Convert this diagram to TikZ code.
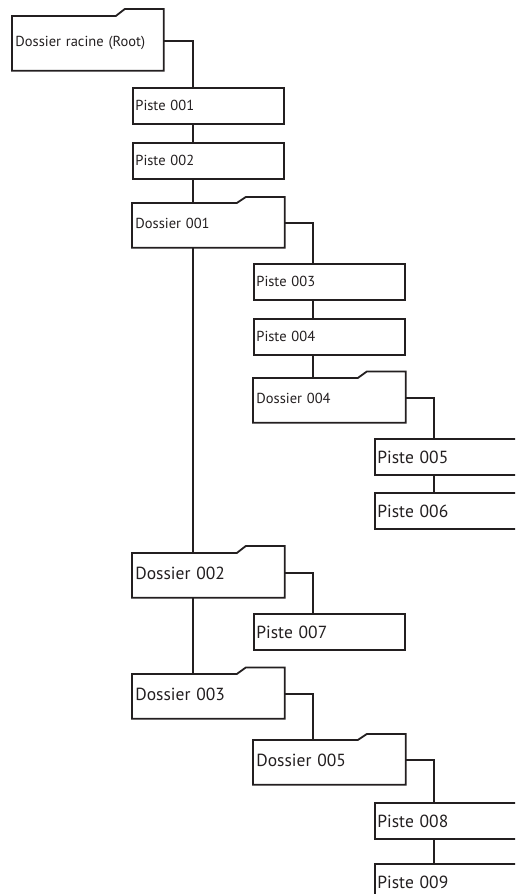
\documentclass[tikz,border=0pt]{standalone}
\usepackage{fontspec}
\setmainfont{PT Sans}
\definecolor{ink}{HTML}{231F20}
\newcommand{\folderline}[2]{%
  \draw[conn] (#1.north west) -- ([xshift=-48pt]#1.north east)
    -- ([xshift=-39pt,yshift=#2]#1.north east) -- ([yshift=#2]#1.north east)
    -- (#1.south east) -- (#1.south west) -- cycle;}
\begin{document}
\begin{tikzpicture}[x=1pt,y=-1pt,
  conn/.style={draw=ink, line width=1.8pt, line join=miter},
  box/.style={rectangle, draw=ink, line width=1.8pt, anchor=north west,
    minimum width=151pt, minimum height=36pt, text width=146pt,
    align=left, inner xsep=2.5pt, inner ysep=0pt, text=ink},
  folder/.style={box, draw=none, minimum height=43pt, text depth=5pt},
  small/.style={font=\fontsize{14.5}{16}\selectfont},
  big/.style={font=\fontsize{17.5}{20}\selectfont}]
\useasboundingbox (0,0) rectangle (515,894);
\clip (0,0) rectangle (515,894);

% column 1
\node[folder, small, minimum width=150pt, text width=145pt, minimum height=53pt] (root) at (12,16) {Dossier racine (Root)};
\folderline{root}{7pt}
\node[box, small] (p1) at (132,87) {Piste 001};
\node[box, small] (p2) at (132,142) {Piste 002};
\node[folder, small] (d1) at (132,203) {Dossier 001};
\folderline{d1}{6pt}
\node[folder, big] (d2) at (132,553) {Dossier 002};
\folderline{d2}{7pt}
\node[folder, big] (d3) at (132,674) {Dossier 003};
\folderline{d3}{6.5pt}

% column 2
\node[box, small] (p3) at (253,263) {Piste 003};
\node[box, small] (p4) at (253,318) {Piste 004};
\node[folder, small] (d4) at (253,378) {Dossier 004};
\folderline{d4}{6.5pt}
\node[box, big] (p7) at (253,613) {Piste 007};
\node[folder, big] (d5) at (253,740) {Dossier 005};
\folderline{d5}{6pt}

% column 3
\node[box, big] (p5) at (374,438) {Piste 005};
\node[box, big] (p6) at (374,492) {Piste 006};
\node[box, big] (p8) at (374,802) {Piste 008};
\node[box, big] (p9) at (374,863) {Piste 009};

% connectors
\draw[conn] ([yshift=2.5pt]root.east) -| ([xshift=61pt]p1.north west);
\draw[conn] ([xshift=61pt]p1.south west) -- ([xshift=61pt]p2.north west);
\draw[conn] ([xshift=61pt]p2.south west) -- ([xshift=61pt]d1.north west);
\draw[conn] ([xshift=61pt]d1.south west) -- ([xshift=61pt]d2.north west);
\draw[conn] ([xshift=61pt]d2.south west) -- ([xshift=61pt]d3.north west);

\draw[conn] ([yshift=2.5pt]d1.east) -| ([xshift=60pt]p3.north west);
\draw[conn] ([xshift=60pt]p3.south west) -- ([xshift=60pt]p4.north west);
\draw[conn] ([xshift=60pt]p4.south west) -- ([xshift=60pt]d4.north west);
\draw[conn] ([yshift=2.5pt]d4.east) -| ([xshift=60pt]p5.north west);
\draw[conn] ([xshift=60pt]p5.south west) -- ([xshift=60pt]p6.north west);

\draw[conn] ([yshift=2.5pt]d2.east) -| ([xshift=60pt]p7.north west);
\draw[conn] ([yshift=2.5pt]d3.east) -| ([xshift=60pt]d5.north west);
\draw[conn] ([yshift=2.5pt]d5.east) -| ([xshift=60pt]p8.north west);
\draw[conn] ([xshift=60pt]p8.south west) -- ([xshift=60pt]p9.north west);
\end{tikzpicture}
\end{document}
